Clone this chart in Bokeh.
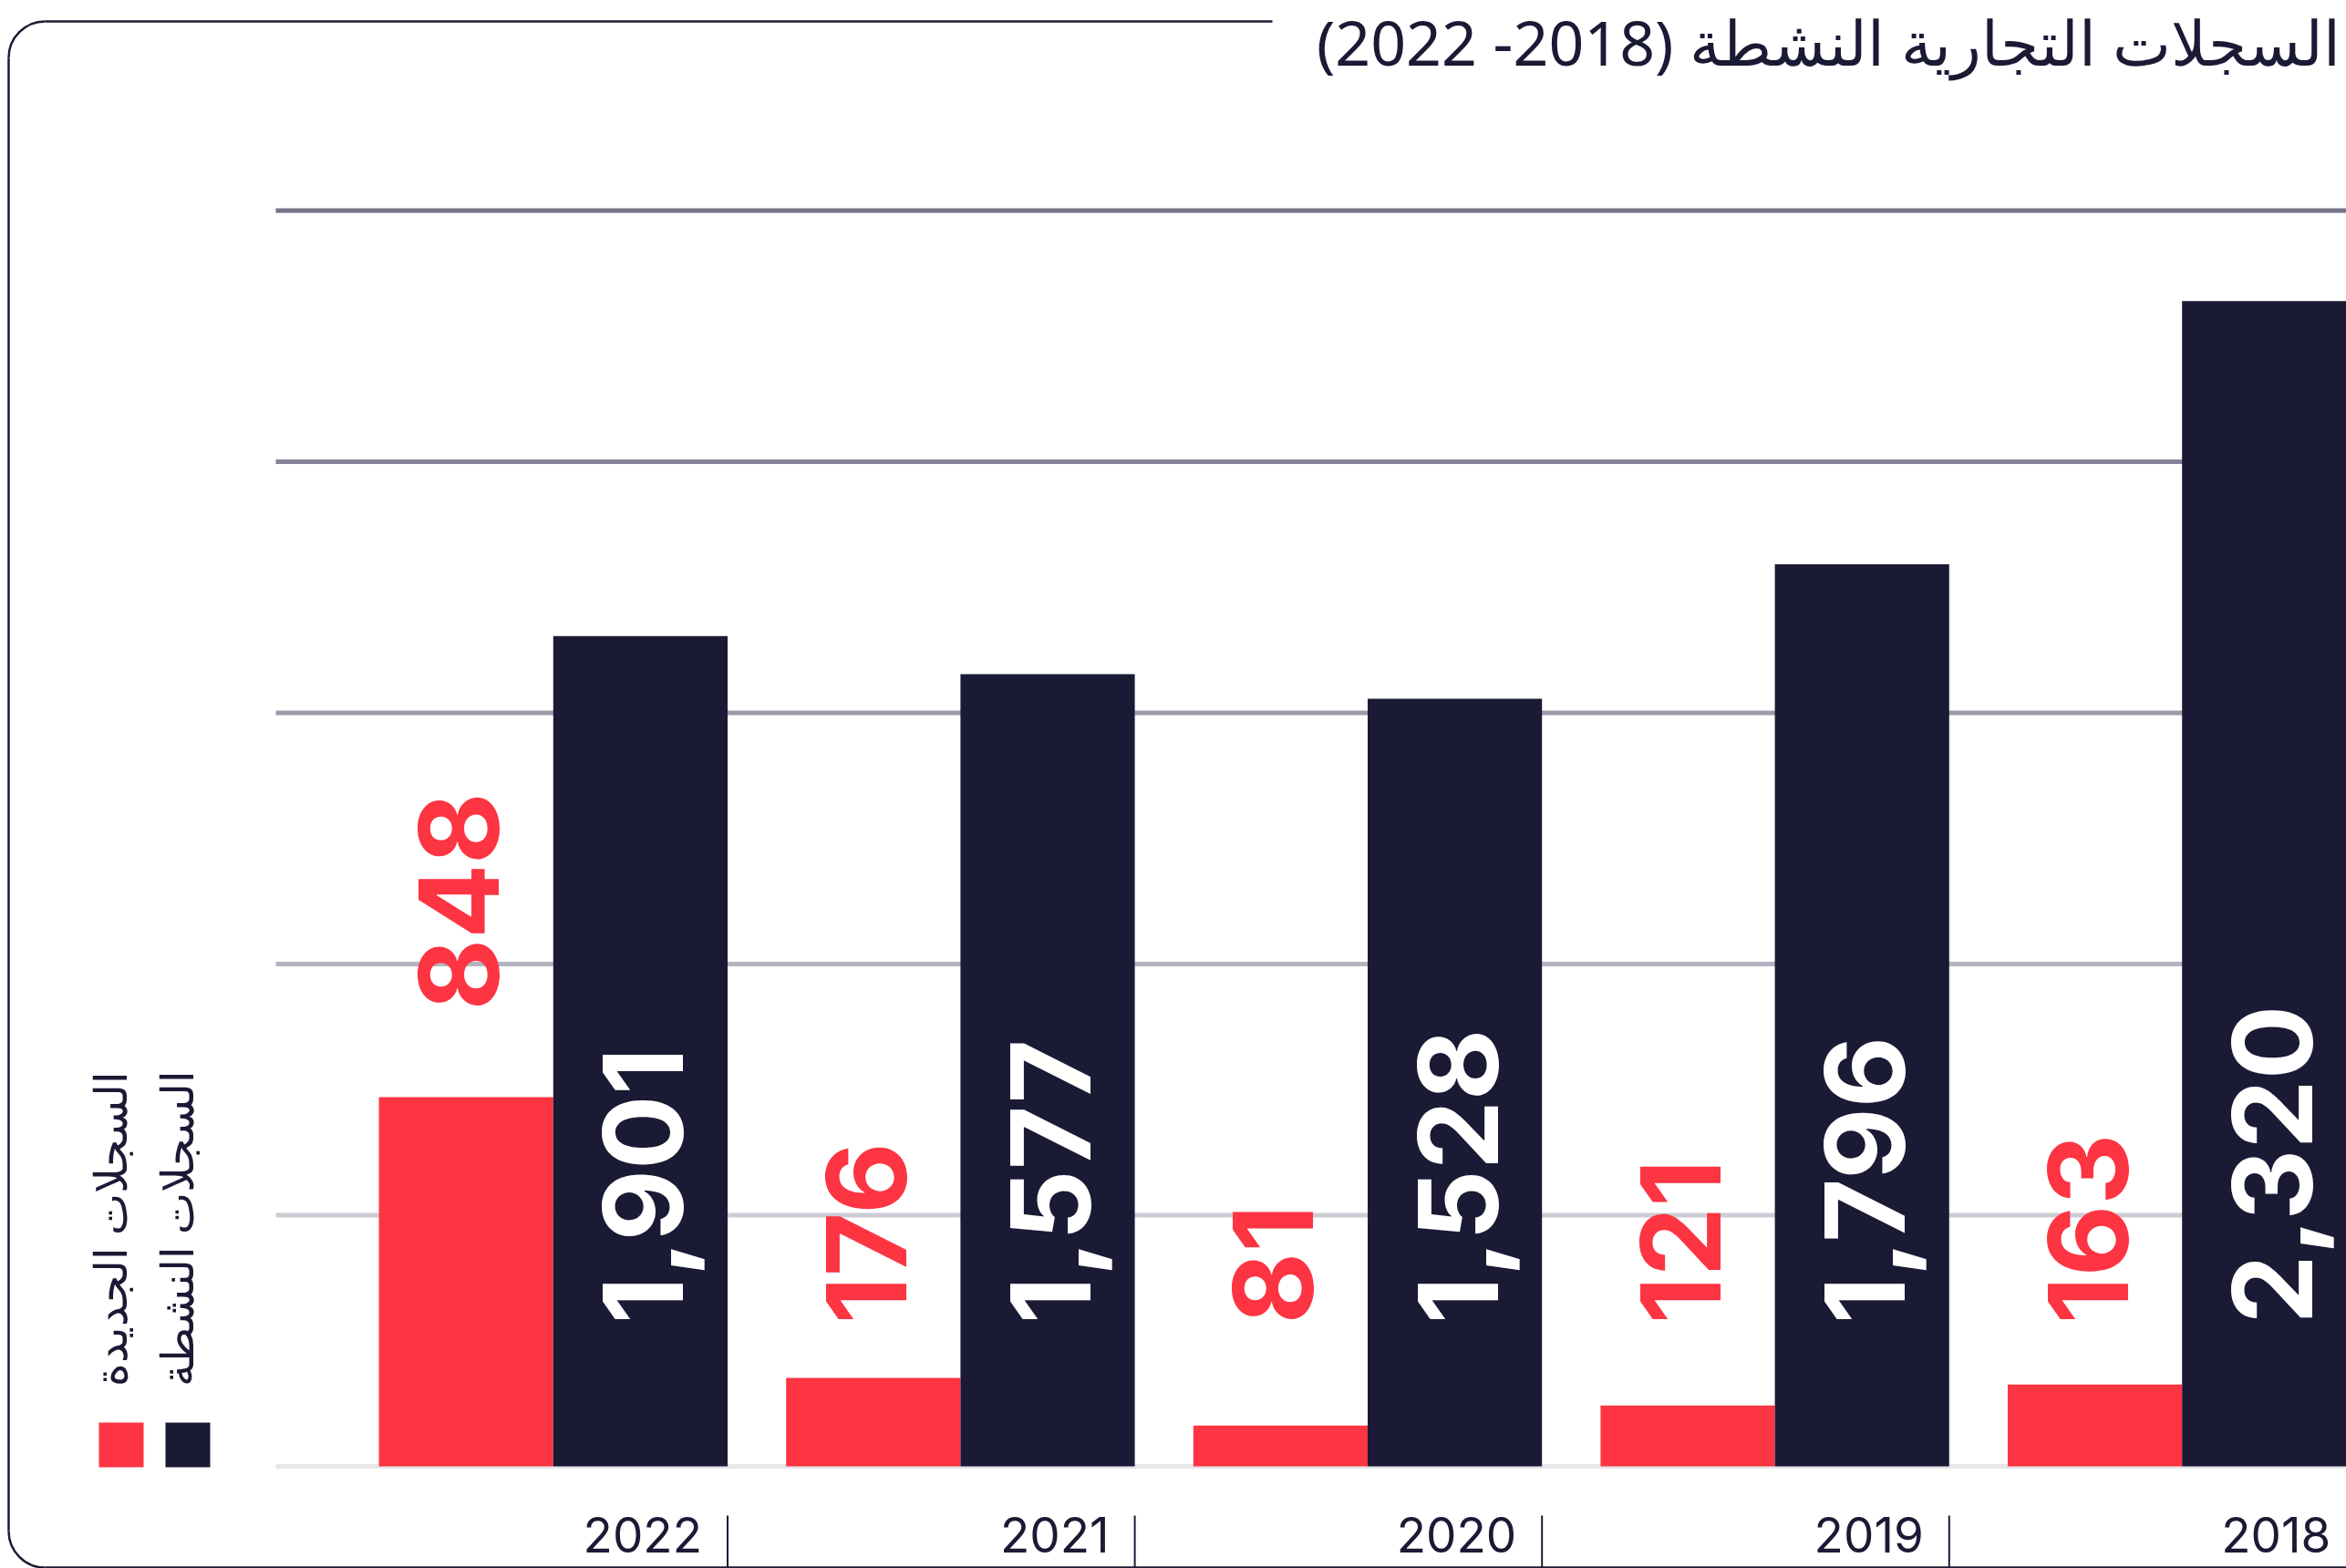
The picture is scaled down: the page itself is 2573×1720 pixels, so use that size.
from bokeh.plotting import figure
from bokeh.models import Range1d, Label, ColumnDataSource
from bokeh.core.properties import value
from bokeh.embed import file_html
from bokeh.resources import INLINE
import math

# ---------------- data ----------------
years = ["2022", "2021", "2020", "2019", "2018"]
new_records = [848, 176, 81, 121, 163]            # السجلات الجديدة (labels)
active_records = [1901, 1577, 1528, 1796, 2320]   # السجلات النشطة (labels)
# bar heights as drawn in the picture
new_bar_heights = [735, 176, 81, 121, 163]
active_bar_heights = [1653, 1577, 1528, 1796, 2320]
grid_values = [0, 500, 1000, 1500, 2000, 2500]
legend_labels = ["السجلات الجديدة", "السجلات النشطة"]
title_text = "السجلات التجارية النشطة (2018- 2022)"

# ---------------- styles / layout ----------------
RED = "#fd3441"
NAVY = "#1b1a35"
GRID_COLORS = ["#e7e6eb", "#cdcbd4", "#b5b2c0", "#9e9aab", "#888399", "#767288"]

W, H = 2573, 1720
BASE_PX = 1608.0     # pixel row of value 0
K = 0.551            # pixels per unit
P = 446.6            # pixels per year group
J0 = 606.3           # pixel column of first group centre (red|navy junction)
B = 191.2            # bar width in pixels

x_start = -J0 / P
x_end = (W - J0) / P
y_start = -(H - BASE_PX) / K
y_end = BASE_PX / K


def xd(px):
    return x_start + px / P


def yd(py):
    return y_end - py / K


def dx(px):
    return px / P


def dy(py):
    return py / K


w = B / P

p = figure(width=W, height=H, x_range=Range1d(x_start, x_end), y_range=Range1d(y_start, y_end),
           output_backend="svg", toolbar_location=None, min_border=0,
           x_axis_location=None, y_axis_location=None)
p.grid.visible = False
p.outline_line_color = None
p.background_fill_color = "white"
p.border_fill_color = "white"

# ---- rounded frame (left side, top up to the title, bottom) ----
R = 40
FL, FT, FB = 9, 23, 1719
p.line(x=[xd(FL), xd(FL)], y=[yd(FT + R), yd(FB - R)], line_color=NAVY, line_width=2.5)
p.line(x=[xd(FL + R), xd(1395)], y=[yd(FT), yd(FT)], line_color=NAVY, line_width=2.5)
p.line(x=[xd(FL + R), x_end + 1], y=[yd(FB), yd(FB)], line_color=NAVY, line_width=2.5)
p.arc(x=[xd(FL + R), xd(FL + R)], y=[yd(FT + R), yd(FB - R)], radius=R, radius_units="screen",
      start_angle=[math.pi / 2, math.pi], end_angle=[math.pi, 3 * math.pi / 2],
      line_color=NAVY, line_width=2.5)

# gridlines
p.segment(x0=[xd(302)] * len(grid_values), x1=[x_end + 1] * len(grid_values),
          y0=grid_values, y1=grid_values, line_color=GRID_COLORS, line_width=5)

idx = list(range(len(years)))

# bars
p.vbar(x=[i - w / 2 for i in idx], width=w, top=new_bar_heights, bottom=0,
       fill_color=RED, line_color=None)
p.vbar(x=[i + w / 2 for i in idx], width=w, top=active_bar_heights, bottom=0,
       fill_color=NAVY, line_color=None)

# value labels (rotated)
floor_v = yd(1452)
dark_src = ColumnDataSource(dict(
    x=[i + w / 2 + dx(3) for i in idx],
    y=[floor_v] * len(idx),
    t=[f"{v:,}" for v in active_records]))
p.text(x="x", y="y", text="t", source=dark_src, angle=math.pi / 2,
       text_align="left", text_baseline="alphabetic", text_color="white",
       text_font=value("Inter"), text_font_style="bold", text_font_size="121px")

red_y = []
for h in new_bar_heights:
    if h + dy(30) < floor_v:
        red_y.append(floor_v)
    else:
        red_y.append(h + dy(95))
red_src = ColumnDataSource(dict(
    x=[i - w / 2 - dx(8) for i in idx],
    y=red_y,
    t=[f"{v:,}" for v in new_records]))
p.text(x="x", y="y", text="t", source=red_src, angle=math.pi / 2,
       text_align="left", text_baseline="alphabetic", text_color=RED,
       text_font=value("Inter"), text_font_style="bold", text_font_size="121px")

# year labels and separators
p.text(x=[i + w - dx(28) for i in idx], y=[yd(1683)] * len(idx), text=years,
       text_align="right", text_baseline="alphabetic", text_color=NAVY,
       text_font=value("Inter"), text_font_size="53px")
p.segment(x0=[i + w for i in idx], x1=[i + w for i in idx],
          y0=[yd(1662)] * len(idx), y1=[y_start] * len(idx),
          line_color=NAVY, line_width=2)

# legend (vertical)
leg_colors = [RED, NAVY]
leg_left = [108, 181]
p.quad(left=[xd(l) for l in leg_left], right=[xd(l + 49) for l in leg_left],
       top=[yd(1560)] * 2, bottom=[yd(1609)] * 2, fill_color=leg_colors, line_color=None)
p.text(x=[xd(119), xd(192)], y=[yd(1520)] * 2, text=legend_labels, angle=math.pi / 2,
       text_align="left", text_baseline="alphabetic", text_color=NAVY,
       text_font=value("Noto Sans"), text_font_size="49px")

# title
title = Label(x=xd(2566), y=yd(45), text=title_text + "\u200F", text_align="right",
              text_baseline="alphabetic", text_color=NAVY, text_font="Noto Sans",
              text_font_size="68px")
p.add_layout(title)

open("out.html", "w").write(file_html(p, INLINE))
